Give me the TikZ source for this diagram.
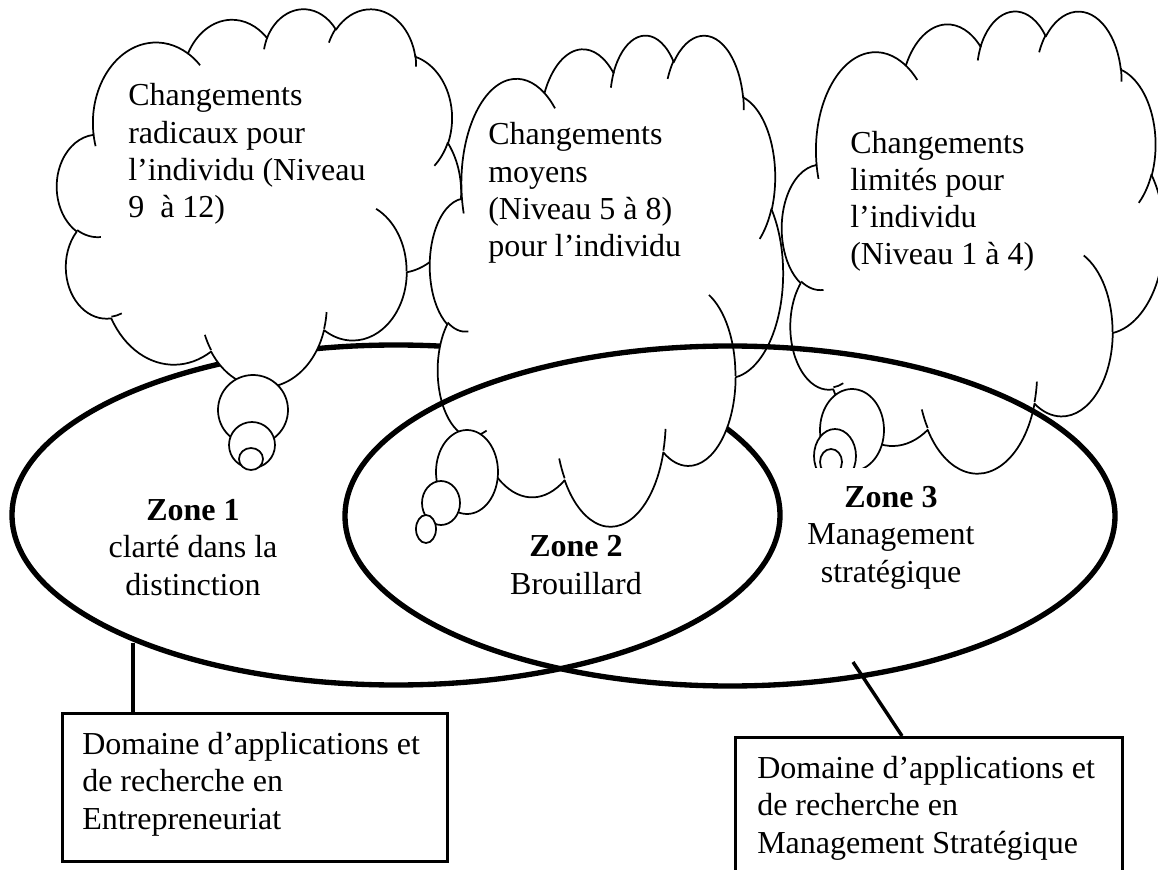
\documentclass[tikz,border=0pt]{standalone}
\usepackage{fontspec}
\setmainfont{Liberation Serif}
\usetikzlibrary{calc}

% DrawingML arcTo -> TikZ parametric angles
\newcommand\dmlcalc[5]{%
  \pgfmathsetmacro\dmltmpa{atan2((#2)*sin(#4),(#3)*cos(#4))}%
  \pgfmathsetmacro\dmltmpb{atan2((#2)*sin((#4)+(#5)),(#3)*cos((#4)+(#5)))}%
  \pgfmathsetmacro\dmltmpb{\dmltmpb+360*(\dmltmpb<\dmltmpa)}%
  \expandafter\xdef\csname dmlS#1\endcsname{\dmltmpa}%
  \expandafter\xdef\csname dmlE#1\endcsname{\dmltmpb}%
}
\dmlcalc{a}{67.53}{91.90}{-190.4875}{123.7805}
\dmlcalc{b}{53.33}{72.67}{-144.1024}{89.9452}
\dmlcalc{c}{43.65}{59.45}{-145.8079}{99.7230}
\dmlcalc{d}{48.57}{65.95}{-130.9861}{117.2417}
\dmlcalc{e}{53.33}{72.73}{-78.7089}{109.0269}
\dmlcalc{f}{67.75}{92.20}{-46.2673}{130.2690}
\dmlcalc{g}{57.85}{78.67}{0.6250}{114.0333}
\dmlcalc{h}{67.52}{92.15}{22.4516}{115.1726}
\dmlcalc{i}{77.20}{105.43}{66.2426}{75.7110}
\dmlcalc{j}{43.60}{59.18}{-274.9421}{146.7356}
\dmlcalc{k}{43.45}{59.45}{-246.8285}{152.5189}
\dmlcalc{l}{43.45}{59.45}{86.7420}{26.4295}
\dmlcalc{m}{43.60}{59.18}{73.6105}{11.4475}
\dmlcalc{n}{67.52}{92.15}{137.6242}{14.0811}
\dmlcalc{o}{67.52}{92.15}{6.4533}{15.9984}
\dmlcalc{p}{57.85}{78.67}{-70.2924}{70.9174}
\dmlcalc{q}{53.33}{72.73}{30.3180}{27.7515}
\dmlcalc{r}{48.57}{65.95}{-13.7443}{14.8589}
\dmlcalc{s}{48.57}{65.95}{-149.1815}{18.1954}
\dmlcalc{t}{43.65}{59.45}{-163.4943}{17.6864}
\dmlcalc{u}{67.53}{91.90}{-66.7070}{12.3194}
\dmlcalc{v}{67.53}{91.90}{157.6544}{11.8582}

\newcommand\cloudshape{%
  \draw[cloudline, fill=white] (39.00,143.70)
    arc[start angle=\dmlSa, end angle=\dmlEa, x radius=67.53, y radius=91.90]
    arc[start angle=\dmlSb, end angle=\dmlEb, x radius=53.33, y radius=72.67]
    arc[start angle=\dmlSc, end angle=\dmlEc, x radius=43.65, y radius=59.45]
    arc[start angle=\dmlSd, end angle=\dmlEd, x radius=48.57, y radius=65.95]
    arc[start angle=\dmlSe, end angle=\dmlEe, x radius=53.33, y radius=72.73]
    arc[start angle=\dmlSf, end angle=\dmlEf, x radius=67.75, y radius=92.20]
    arc[start angle=\dmlSg, end angle=\dmlEg, x radius=57.85, y radius=78.67]
    arc[start angle=\dmlSh, end angle=\dmlEh, x radius=67.52, y radius=92.15]
    arc[start angle=\dmlSi, end angle=\dmlEi, x radius=77.20, y radius=105.43]
    arc[start angle=\dmlSj, end angle=\dmlEj, x radius=43.60, y radius=59.18]
    arc[start angle=\dmlSk, end angle=\dmlEk, x radius=43.45, y radius=59.45]
    -- cycle;
  \draw[cloudline]
    (46.93,261.77) arc[start angle=\dmlSl, end angle=\dmlEl, x radius=43.45, y radius=59.45]
    (69.28,348.99) arc[start angle=\dmlSm, end angle=\dmlEm, x radius=43.60, y radius=59.18]
    (164.78,390.90) arc[start angle=\dmlSn, end angle=\dmlEn, x radius=67.52, y radius=92.15]
    (288.27,347.51) arc[start angle=\dmlSo, end angle=\dmlEo, x radius=67.52, y radius=92.15]
    (341.29,229.54) arc[start angle=\dmlSp, end angle=\dmlEp, x radius=57.85, y radius=78.67]
    (417.98,153.54) arc[start angle=\dmlSq, end angle=\dmlEq, x radius=53.33, y radius=72.73]
    (383.24,54.26) arc[start angle=\dmlSr, end angle=\dmlEr, x radius=48.57, y radius=65.95]
    (290.78,39.52) arc[start angle=\dmlSs, end angle=\dmlEs, x radius=48.57, y radius=65.95]
    (221.41,47.20) arc[start angle=\dmlSt, end angle=\dmlEt, x radius=43.65, y radius=59.45]
    (140.00,51.92) arc[start angle=\dmlSu, end angle=\dmlEu, x radius=67.53, y radius=91.90]
    (41.27,157.89) arc[start angle=\dmlSv, end angle=\dmlEv, x radius=67.53, y radius=91.90];
}

\tikzset{
  cloudline/.style={line width=1.3pt, line join=round},
  bubble/.style={cloudline, fill=white},
  ellst/.style={line width=4pt},
  connline/.style={line width=2.6pt},
  txt/.style={font=\fontsize{24}{28}\selectfont, inner sep=0pt},
  boxst/.style={draw, line width=2.6pt, rectangle, inner sep=0pt},
}

\begin{document}
\begin{tikzpicture}[x=0.75pt,y=0.75pt,yscale=-1]
\path[use as bounding box, fill=white] (0,0) rectangle (1158,870);

% ellipse A (zone 1)
\coordinate (ellA) at (396,515);
\draw[ellst] (ellA) ellipse[x radius=384, y radius=170];

% cloud 1
\begin{scope}[shift={(57,8)}, xscale=404/432, yscale=378/432]
  \cloudshape
\end{scope}
\draw[bubble] (253,410) ellipse[x radius=35, y radius=35];
\draw[bubble] (252,445) ellipse[x radius=23, y radius=23];
\draw[bubble] (251,459) ellipse[x radius=12, y radius=11];

% cloud 3
\begin{scope}[shift={(782,10)}, xscale=382/432, yscale=462/432]
  \cloudshape
\end{scope}
\begin{scope}
  \clip (780,370) rectangle (900,467);
  \draw[bubble] (852,430) ellipse[x radius=32, y radius=41];
  \draw[bubble] (835,456) ellipse[x radius=21, y radius=27];
  \draw[bubble] (831,462) ellipse[x radius=11, y radius=13];
\end{scope}

% cloud 2
\begin{scope}[shift={(430,34)}, xscale=353/432, yscale=491/432]
  \cloudshape
\end{scope}
\draw[bubble] (467,472) ellipse[x radius=31, y radius=42];
\draw[bubble] (441,503) ellipse[x radius=19, y radius=22];
\draw[bubble] (426,529) ellipse[x radius=10, y radius=14];

% ellipse B
\coordinate (ellB) at (730,516);
\draw[ellst] (ellB) ellipse[x radius=385, y radius=170];

% cloud texts (anchor = baseline of last line)
\node[txt, anchor=base west, align=left] (t1) at (128,218)
  {Changements\\radicaux pour\\l’individu (Niveau\\9\ \ à 12)};
\node[txt, anchor=base west, align=left] (t2) at (488,257)
  {Changements\\moyens\\(Niveau 5 à 8)\\pour l’individu};
\node[txt, anchor=base west, align=left] (t3) at (850,265)
  {Changements\\limités pour\\l’individu\\(Niveau 1 à 4)};

% zone texts
\node[txt, anchor=base, align=center] (z1) at (193,595)
  {\textbf{Zone 1}\\clarté dans la\\distinction};
\node[txt, anchor=base, align=center] (z2) at (576,594)
  {\textbf{Zone 2}\\Brouillard};
\node[txt, anchor=base, align=center] (z3) at (891,582)
  {\textbf{Zone 3}\\Management\\stratégique};

% boxes
\node[boxst, anchor=north west, minimum width=288.75pt, minimum height=111pt] (box1) at (61,712) {};
\node[txt, anchor=base west, align=left] (b1t) at (82,829)
  {Domaine d’applications et\\de recherche en\\Entrepreneuriat};
\node[boxst, anchor=north west, minimum width=290.25pt, minimum height=126pt] (box2) at (734,736) {};
\node[txt, anchor=base west, align=left] (b2t) at (757,853)
  {Domaine d’applications et\\de recherche en\\Management Stratégique};

% connectors
\coordinate (c1) at (133,643);
\coordinate (c2) at (853,662);
\draw[connline] (c1) -- (c1 |- box1.north);
\draw[connline] (c2) -- ($(box2.north west)+(168,0)$);
\end{tikzpicture}
\end{document}
